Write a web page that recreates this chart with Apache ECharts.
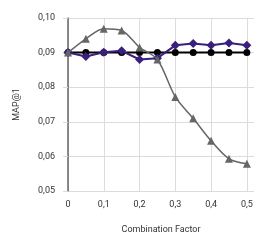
<!DOCTYPE html>
<html>
<head>
<meta charset="utf-8">
<script src="https://cdn.jsdelivr.net/npm/echarts@6/dist/echarts.min.js"></script>
<style>html,body{margin:0;padding:0;background:#fff;}#c{width:266px;height:247px;}</style>
</head>
<body>
<div id="c"></div>
<script>
const factors = [0, 0.05, 0.1, 0.15, 0.2, 0.25, 0.3, 0.35, 0.4, 0.45, 0.5];
const blackSeries = [0.090, 0.090, 0.090, 0.090, 0.090, 0.090, 0.090, 0.090, 0.090, 0.090, 0.090];
const purpleSeries = [0.090, 0.0889, 0.0901, 0.0905, 0.0880, 0.0884, 0.0921, 0.0926, 0.0921, 0.0928, 0.0921];
const graySeries = [0.090, 0.0940, 0.0969, 0.0964, 0.0915, 0.0880, 0.0772, 0.0710, 0.0645, 0.0593, 0.0579];
const xTicks = [0, 0.1, 0.2, 0.3, 0.4, 0.5];
const yTicks = [0.05, 0.06, 0.07, 0.08, 0.09, 0.10];

const pair = arr => factors.map((f, i) => [f, arr[i]]);
const font = 'Roboto, "Liberation Sans", sans-serif';
const chart = echarts.init(document.getElementById('c'), null, {renderer: 'canvas'});
chart.setOption({
  animation: false,
  backgroundColor: '#fff',
  grid: {left: 68, right: 12, top: 18, bottom: 56},
  xAxis: {
    type: 'value', min: 0, max: 0.52, interval: 0.1,
    name: 'Combination Factor', nameLocation: 'middle', nameGap: 34,
    nameTextStyle: {fontSize: 9, color: '#333', fontFamily: font},
    axisLine: {show: false},
    axisTick: {show: false},
    axisLabel: {
      fontSize: 9, color: '#333', fontFamily: font, margin: 9,
      formatter: v => xTicks.some(t => Math.abs(t - v) < 1e-9) ? String(+v.toFixed(2)).replace('.', ',') : ''
    },
    splitLine: {show: true, lineStyle: {color: ['#dcdcdc','#dcdcdc','#dcdcdc','#dcdcdc','#dcdcdc','#dcdcdc','rgba(0,0,0,0)'], width: 1}}
  },
  yAxis: {
    type: 'value', min: 0.05, max: 0.10, interval: 0.01,
    name: 'MAP@1', nameLocation: 'middle', nameGap: 47,
    nameTextStyle: {fontSize: 9, color: '#333', fontFamily: font},
    axisLine: {show: true, lineStyle: {color: '#666', width: 1.5}},
    axisTick: {show: true, length: 5, lineStyle: {color: '#dcdcdc'}},
    axisLabel: {
      fontSize: 9, color: '#333', fontFamily: font, margin: 13,
      formatter: v => yTicks.some(t => Math.abs(t - v) < 1e-9) ? v.toFixed(2).replace('.', ',') : ''
    },
    splitLine: {show: true, lineStyle: {color: '#dcdcdc', width: 1}}
  },
  series: [
    {type: 'line', data: pair(blackSeries), symbol: 'circle', symbolSize: 7,
     itemStyle: {color: '#000'}, lineStyle: {color: '#000', width: 2}, z: 2},
    {type: 'line', data: pair(purpleSeries), symbol: 'diamond', symbolSize: 9,
     itemStyle: {color: '#3a1f7c'}, lineStyle: {color: '#3a1f7c', width: 2}, z: 3},
    {type: 'line', data: pair(graySeries), symbol: 'triangle', symbolSize: 8, smooth: 0.3,
     itemStyle: {color: '#666'}, lineStyle: {color: '#666', width: 1.5}, z: 4}
  ]
});
</script>
</body>
</html>
